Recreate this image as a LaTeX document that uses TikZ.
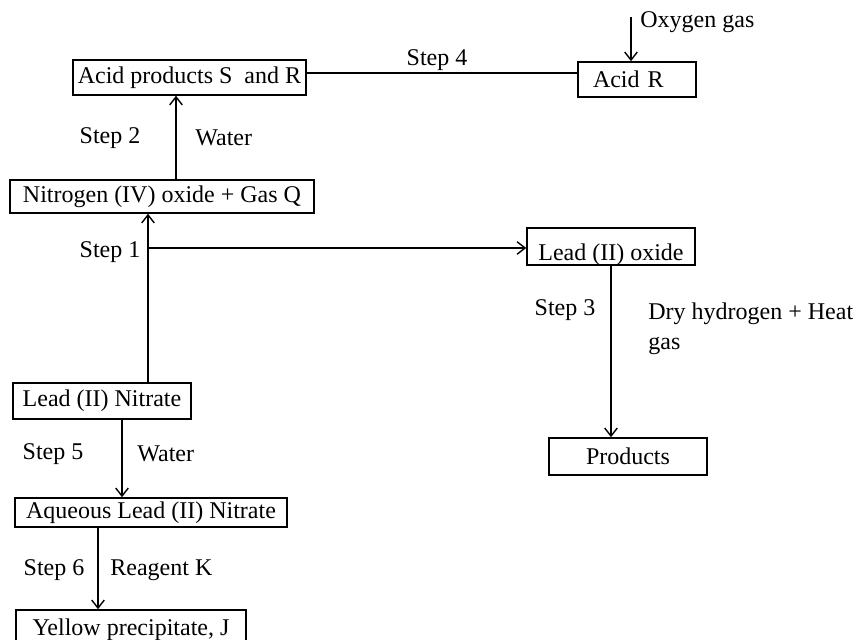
\documentclass[tikz,border=0pt]{standalone}
\usepackage{fontspec}
\setmainfont{Liberation Serif}
\usepackage{tikz}
\usetikzlibrary{arrows.meta,positioning,calc}
\tikzset{
  flowarrow/.style={-{Straight Barb[length=1.4mm,width=2.2mm]}, line width=0.7pt, draw=black},
  plainline/.style={line width=0.7pt, draw=black},
  chembox/.style={draw=black, line width=0.8pt, inner sep=0pt, align=center,
    font=\fontsize{12}{15}\selectfont},
  steplabel/.style={font=\fontsize{12}{15}\selectfont, inner sep=1pt},
  notelabel/.style={font=\fontsize{12}{15}\selectfont, inner sep=1pt, anchor=west, align=left}
}

\begin{document}
\begin{tikzpicture}[x=0.5pt,y=-0.5pt]
        \useasboundingbox (0,0) rectangle (859,640);
        \clip (0,0) rectangle (859,640);

        % boxes
        \node[chembox, minimum width=116.5pt, minimum height=17.5pt] (acid) at (189.5,77.5) {Acid products S~ and R};
        \node[chembox, text width=44pt, inner xsep=7.5pt, minimum height=17.5pt, align=left] (acidr) at (637,79.5) {Acid R};
        \node[chembox, minimum width=152pt, minimum height=16.5pt] (nitro) at (162,196.5) {Nitrogen (IV) oxide + Gas Q};
        \node[chembox, minimum width=84pt, minimum height=18.5pt,
              text height=15pt, text depth=1pt] (leadox) at (611,246.5) {Lead (II) oxide};
        \node[chembox, minimum width=89pt, minimum height=18pt] (leadnit) at (102,401) {Lead (II) Nitrate};
        \node[chembox, minimum width=79pt, minimum height=18.5pt] (products) at (628,456.5) {Products};
        \node[chembox, minimum width=136pt, minimum height=14.5pt] (aqueous) at (151,512.5) {Aqueous Lead (II) Nitrate};
        \node[chembox, minimum width=115pt, minimum height=20pt] (yellow) at (131,630) {Yellow precipitate, J};

        % labels
        \node[steplabel] (step4) at (437,60) {Step 4};
        \node[notelabel] (oxy) at (638,22) {Oxygen gas};
        \node[steplabel] (step2) at (110,138) {Step 2};
        \node[notelabel] (water1) at (193,138) {Water};
        \node[steplabel] (step1) at (110,252) {Step 1};
        \node[steplabel] (step3) at (565,310) {Step 3};
        \node[notelabel, anchor=north west] (dryh) at (646,300) {Dry hydrogen + Heat\\gas};
        \node[steplabel] (step5) at (53,454) {Step 5};
        \node[notelabel] (water2) at (135,454) {Water};
        \node[steplabel] (step6) at (54,570) {Step 6};
        \node[notelabel] (reagent) at (108,570) {Reagent K};

        \coordinate (oxytop) at (631,17);
        \coordinate (branch) at (148,248);

        % connectors
        \draw[plainline] ([yshift=2.25pt]acid.east) -- ([yshift=2.25pt]acid.east -| acidr.west);
        \draw[flowarrow] (oxytop) -- (oxytop |- acidr.north);
        \draw[flowarrow] ([xshift=7pt]nitro.north) -- ([xshift=7pt]nitro.north |- acid.south);
        \draw[flowarrow] ([xshift=23pt]leadnit.north) -- ([xshift=23pt]leadnit.north |- nitro.south);
        \draw[flowarrow] (branch) -- (branch -| leadox.west);
        \draw[flowarrow] (leadox.south) -- (leadox.south |- products.north);
        \draw[flowarrow] ([xshift=10pt]leadnit.south) -- ([xshift=10pt]leadnit.south |- aqueous.north);
        \draw[flowarrow] ([xshift=-26.5pt]aqueous.south) -- ([xshift=-26.5pt]aqueous.south |- yellow.north);
    \end{tikzpicture}
\end{document}
